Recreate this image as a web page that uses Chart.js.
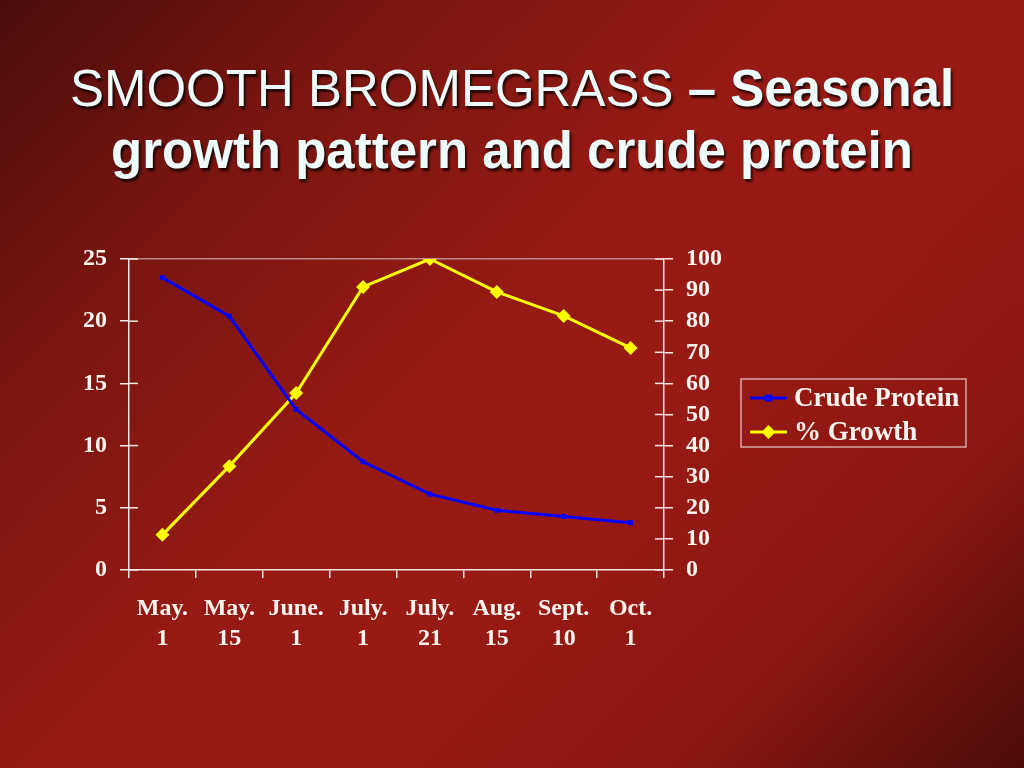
<!DOCTYPE html>
<html>
<head>
<meta charset="utf-8">
<script src="https://cdn.jsdelivr.net/npm/chart.js@4"></script>
<style>
  html, body { margin: 0; padding: 0; }
  body {
    width: 1024px; height: 768px; overflow: hidden; position: relative;
    background: linear-gradient(135deg, #4a0d0b 0%, #7a1510 22%, #951a13 45%, #981a14 60%, #8c1711 80%, #4c0c09 100%);
  }
  #title {
    position: absolute; left: 0; top: 58px; width: 1024px;
    text-align: center; color: #eefcfc;
    font-family: "Liberation Sans", Arial, sans-serif; font-size: 51px; line-height: 62px;
    text-shadow: 2px 3px 2px rgba(0,0,0,0.7);
  }
  #title b { font-weight: bold; }
  #wrap { position: absolute; left: 0; top: 0; width: 1024px; height: 768px; }
</style>
</head>
<body>
<div id="title">SMOOTH BROMEGRASS <b>– Seasonal</b><br><b>growth pattern and crude protein</b></div>
<div id="wrap"><canvas id="chart"></canvas></div>
<script>
const dates = [["May.", "1"], ["May.", "15"], ["June.", "1"], ["July.", "1"], ["July.", "21"], ["Aug.", "15"], ["Sept.", "10"], ["Oct.", "1"]];
const crudeProtein = [23.5, 20.4, 12.9, 8.7, 6.1, 4.8, 4.3, 3.8];
const growth = [11.3, 33.4, 56.9, 91, 100, 89.4, 81.7, 71.4];

const white = '#f4e6e6';
const tickFont = { family: 'Liberation Serif', weight: 'bold', size: 24 };

// y ticks in the picture cross the axis line, so draw the inner half too
const crossTicks = {
  id: 'crossTicks',
  afterDraw(chart) {
    const ctx = chart.ctx;
    ctx.save();
    ctx.strokeStyle = white;
    ctx.lineWidth = 1.5;
    ['y', 'y1'].forEach(id => {
      const s = chart.scales[id];
      const x = id === 'y' ? s.right : s.left;
      const dir = id === 'y' ? 1 : -1;
      s.ticks.forEach(t => {
        const py = s.getPixelForValue(t.value);
        ctx.beginPath();
        ctx.moveTo(x, py);
        ctx.lineTo(x + dir * 9, py);
        ctx.stroke();
      });
    });
    ctx.restore();
  }
};

// legend with a frame and line+marker samples
const boxLegend = {
  id: 'boxLegend',
  afterDraw(chart) {
    const ctx = chart.ctx;
    const a = chart.chartArea;
    const left = a.right + 77, top = 379, w = 225, h = 68;
    ctx.save();
    ctx.strokeStyle = '#e8cccc';
    ctx.lineWidth = 1.2;
    ctx.strokeRect(left, top, w, h);
    ctx.font = 'bold 27px "Liberation Serif"';
    ctx.textBaseline = 'middle';
    chart.data.datasets.forEach((ds, i) => {
      const y = top + 19 + i * 34;
      ctx.strokeStyle = ds.borderColor;
      ctx.lineWidth = 3;
      ctx.beginPath();
      ctx.moveTo(left + 9, y);
      ctx.lineTo(left + 46, y);
      ctx.stroke();
      ctx.fillStyle = ds.backgroundColor;
      ctx.beginPath();
      if (ds.pointStyle === 'rectRot') {
        const r = 7;
        ctx.moveTo(left + 27.5, y - r);
        ctx.lineTo(left + 27.5 + r, y);
        ctx.lineTo(left + 27.5, y + r);
        ctx.lineTo(left + 27.5 - r, y);
        ctx.closePath();
      } else {
        ctx.rect(left + 24, y - 3.5, 7, 7);
      }
      ctx.fill();
      ctx.fillStyle = '#fff4f0';
      ctx.fillText(ds.label, left + 53, y + 1);
    });
    ctx.restore();
  }
};

const chart = new Chart(document.getElementById('chart'), {
  type: 'line',
  data: {
    labels: dates,
    datasets: [
      {
        label: 'Crude Protein',
        data: crudeProtein,
        yAxisID: 'y',
        borderColor: '#0000ff',
        backgroundColor: '#0000ff',
        borderWidth: 3,
        pointStyle: 'rect',
        pointRadius: 3.5,
        pointBorderWidth: 0,
        tension: 0
      },
      {
        label: '% Growth',
        data: growth,
        yAxisID: 'y1',
        borderColor: '#ffff00',
        backgroundColor: '#ffff00',
        borderWidth: 3,
        pointStyle: 'rectRot',
        pointRadius: 7,
        pointBorderWidth: 0,
        tension: 0
      }
    ]
  },
  options: {
    responsive: true,
    maintainAspectRatio: false,
    animation: false,
    layout: { padding: { left: 0, top: 259, right: 260, bottom: 98 } },
    plugins: {
      legend: { display: false },
      tooltip: { enabled: false }
    },
    scales: {
      x: {
        offset: true,
        afterFit: s => { s.height = 100; },
        grid: { offset: true, drawOnChartArea: false, tickColor: white, tickLength: 8, lineWidth: 1.5 },
        border: { color: white, width: 1.5 },
        ticks: { color: '#fff4f0', font: { ...tickFont, lineHeight: 1.25 }, padding: 16, maxRotation: 0, autoSkip: false }
      },
      y: {
        position: 'left',
        min: 0, max: 25,
        afterFit: s => { s.width = 129; },
        grid: {
          drawOnChartArea: true,
          color: c => c.tick && c.tick.value === 25 ? 'rgba(200,170,170,0.8)' : 'transparent',
          tickColor: white, tickLength: 9, lineWidth: 1.5
        },
        border: { color: white, width: 1.5 },
        ticks: { stepSize: 5, color: '#fff4f0', font: tickFont, padding: 13, autoSkip: false }
      },
      y1: {
        position: 'right',
        min: 0, max: 100,
        afterFit: s => { s.width = 100; },
        grid: { drawOnChartArea: false, tickColor: white, tickLength: 9, lineWidth: 1.5 },
        border: { color: white, width: 1.5 },
        ticks: { stepSize: 10, color: '#fff4f0', font: tickFont, padding: 13, autoSkip: false }
      }
    }
  },
  plugins: [crossTicks, boxLegend]
});
</script>
</body>
</html>
